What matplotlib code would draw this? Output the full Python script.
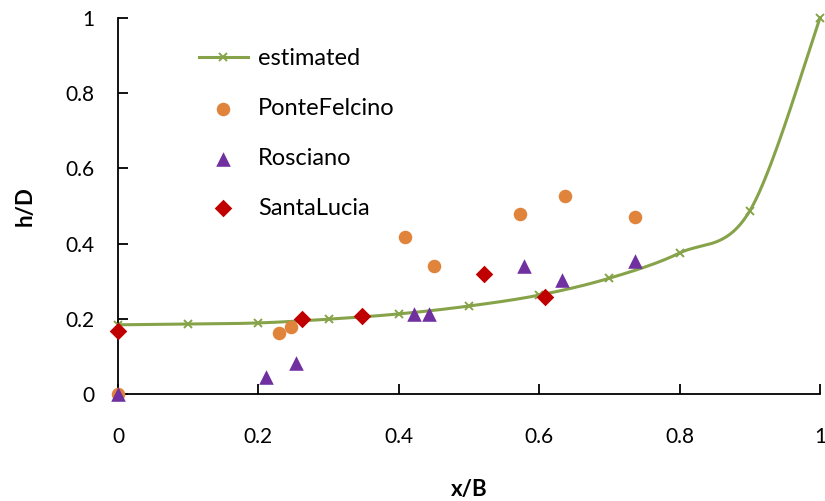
import numpy as np
import matplotlib
matplotlib.use('Agg')
import matplotlib.pyplot as plt
from matplotlib.ticker import FormatStrFormatter

plt.rcParams['font.family'] = ['Lato', 'DejaVu Sans']

# estimated profile
x_est = [0.0, 0.1, 0.2, 0.3, 0.4, 0.5, 0.6, 0.7, 0.8, 0.9, 1.0]
h_est = [0.184, 0.186, 0.189, 0.199, 0.213, 0.234, 0.263, 0.308, 0.375, 0.487, 1.0]

# measured sites
x_pf = [0.0, 0.229, 0.246, 0.409, 0.450, 0.573, 0.637, 0.736]
h_pf = [0.0, 0.162, 0.178, 0.417, 0.340, 0.480, 0.526, 0.470]

x_ros = [0.0, 0.211, 0.254, 0.422, 0.443, 0.578, 0.632, 0.736]
h_ros = [0.0, 0.045, 0.082, 0.213, 0.213, 0.340, 0.303, 0.354]

x_sl = [0.0, 0.262, 0.347, 0.521, 0.608]
h_sl = [0.168, 0.200, 0.207, 0.319, 0.259]


def smooth_curve(x, y, n=40):
    # spreadsheet-style smoothed line: cubic Bezier segments with
    # Catmull-Rom control points (tension 1/6)
    p = np.column_stack([x, y]).astype(float)
    ext = np.vstack([p[0], p, p[-1]])
    t = np.linspace(0, 1, n)[:, None]
    out = []
    for i in range(len(p) - 1):
        p0, p1 = ext[i + 1], ext[i + 2]
        c1 = p0 + (ext[i + 2] - ext[i]) / 6.0
        c2 = p1 - (ext[i + 3] - ext[i + 1]) / 6.0
        seg = ((1 - t) ** 3) * p0 + 3 * ((1 - t) ** 2) * t * c1 \
            + 3 * (1 - t) * t ** 2 * c2 + t ** 3 * p1
        out.append(seg if i == 0 else seg[1:])
    out = np.vstack(out)
    return out[:, 0], out[:, 1]


green = '#86A34A'
fig = plt.figure(figsize=(8.25, 5.01), dpi=100)
ax = fig.add_axes([118 / 825, 107 / 501, 702 / 825, 376 / 501])

sx, sy = smooth_curve(x_est, h_est)
ax.plot(sx, sy, color=green, lw=2.2, zorder=2, clip_on=False)
ax.plot(x_est, h_est, ls='none', marker='x', ms=6, mew=1.4, color=green,
        zorder=2, clip_on=False)
est_handle, = ax.plot([], [], color=green, lw=2.2, marker='x', ms=6, mew=1.4)

pf = ax.scatter(x_pf, h_pf, s=95, marker='o', color='#E0843C', lw=0,
                zorder=3, clip_on=False)
ros = ax.scatter(x_ros, h_ros, s=110, marker='^', color='#7030A0', lw=0,
                 zorder=4, clip_on=False)
sl = ax.scatter(x_sl, h_sl, s=80, marker='D', color='#C00000', lw=0,
                zorder=4, clip_on=False)

ax.set_xlim(0, 1)
ax.set_ylim(0, 1)
ax.set_xticks(np.arange(0, 1.01, 0.2))
ax.set_yticks(np.arange(0, 1.01, 0.2))
ax.xaxis.set_major_formatter(FormatStrFormatter('%g'))
ax.yaxis.set_major_formatter(FormatStrFormatter('%g'))
ax.spines['top'].set_visible(False)
ax.spines['right'].set_visible(False)
for s in ('left', 'bottom'):
    ax.spines[s].set_linewidth(1.3)
    ax.spines[s].set_zorder(1)
ax.tick_params(axis='both', direction='in', length=7, width=1.3, labelsize=15)
ax.tick_params(axis='x', pad=24)
ax.tick_params(axis='y', pad=17)

ax.set_xlabel('x/B', fontsize=16, fontweight='bold', labelpad=23)
ax.set_ylabel('h/D', fontsize=16, fontweight='bold', labelpad=21)

leg = ax.legend([est_handle, pf, ros, sl],
                ['estimated', 'PonteFelcino', 'Rosciano', 'SantaLucia'],
                loc='upper left', bbox_to_anchor=(178 / 825, 1 - 27 / 501),
                bbox_transform=fig.transFigure, frameon=False, fontsize=17,
                handlelength=2.05, handletextpad=0.45, labelspacing=1.22,
                scatterpoints=1)

fig.savefig('out.png', dpi=100)
